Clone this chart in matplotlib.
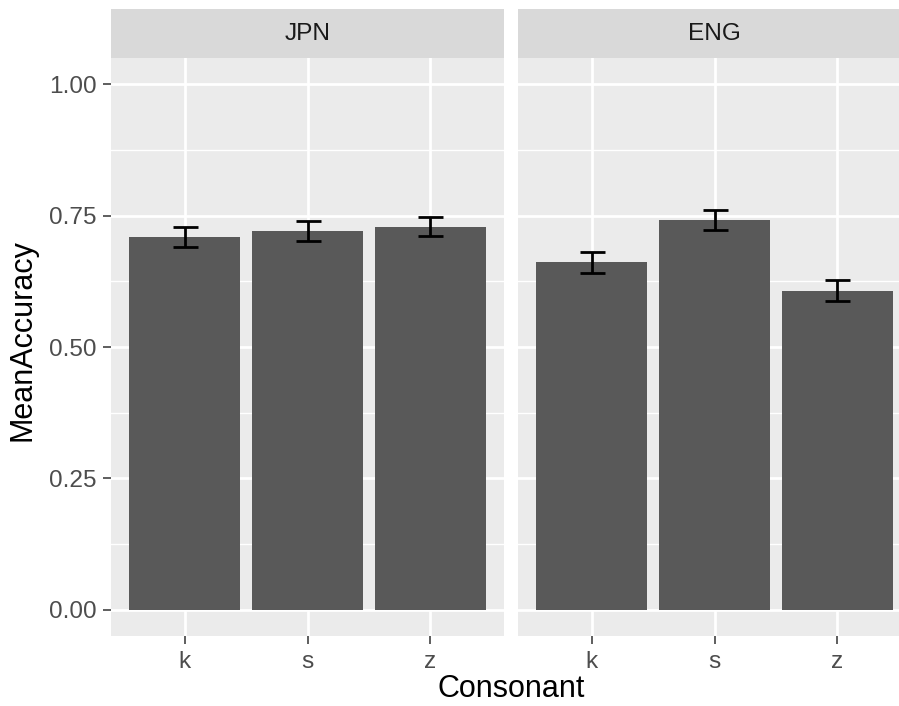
import numpy as np
import matplotlib.pyplot as plt
from matplotlib.ticker import FixedLocator

plt.rcParams['font.family'] = ['Liberation Sans', 'DejaVu Sans']

# Datos
consonants = ['k', 's', 'z']
panels = ['JPN', 'ENG']
mean_acc = {
    'JPN': [0.7095, 0.721, 0.7285],
    'ENG': [0.662, 0.742, 0.607],
}
acc_low = {
    'JPN': [0.691, 0.701, 0.711],
    'ENG': [0.641, 0.723, 0.587],
}
acc_high = {
    'JPN': [0.729, 0.739, 0.748],
    'ENG': [0.681, 0.761, 0.628],
}
y_ticks = [0.0, 0.25, 0.5, 0.75, 1.0]
y_labels = ['0.00', '0.25', '0.50', '0.75', '1.00']

W, H = 899, 706
fig = plt.figure(figsize=(W / 100, H / 100), dpi=100)

# posiciones de los paneles en pixeles (izq, der)
panel_x = {'JPN': (111, 504), 'ENG': (518, 911)}
top_px, bot_px, strip_top = 58, 636, 9

for name in panels:
    x0, x1 = panel_x[name]
    ax = fig.add_axes([x0 / W, 1 - bot_px / H, (x1 - x0) / W, (bot_px - top_px) / H])
    ax.set_facecolor('#EBEBEB')
    ax.set_axisbelow(True)
    x = np.arange(len(consonants))
    vals = np.array(mean_acc[name])
    err = [vals - np.array(acc_low[name]), np.array(acc_high[name]) - vals]
    ax.bar(x, vals, width=0.9, color='#595959', zorder=2)
    ax.errorbar(x, vals, yerr=err, fmt='none', ecolor='black', elinewidth=2,
                capsize=9, capthick=2, zorder=3)
    ax.set_xlim(-0.6, 2.6)
    ax.set_ylim(-0.05, 1.05)
    ax.set_xticks(x)
    ax.set_xticklabels(consonants)
    ax.set_yticks(y_ticks)
    ax.yaxis.set_minor_locator(FixedLocator([0.125, 0.375, 0.625, 0.875]))
    ax.grid(which='major', color='white', linewidth=2)
    ax.grid(which='minor', axis='y', color='white', linewidth=1)
    for s in ax.spines.values():
        s.set_visible(False)
    ax.tick_params(which='major', length=5.5, width=1.1, color='#333333',
                   labelsize=17.6, labelcolor='#4D4D4D', pad=5)
    ax.tick_params(which='minor', length=0)
    if name == 'JPN':
        ax.set_yticklabels(y_labels)
    else:
        ax.tick_params(axis='y', left=False, labelleft=False)

    # franja del titulo
    sax = fig.add_axes([x0 / W, 1 - top_px / H, (x1 - x0) / W, (top_px - strip_top) / H])
    sax.set_facecolor('#D9D9D9')
    sax.set_xticks([])
    sax.set_yticks([])
    for s in sax.spines.values():
        s.set_visible(False)
    sax.text(0.5, 0.5, name, ha='center', va='center', fontsize=17.6,
             color='#1A1A1A', transform=sax.transAxes)

fig.text(511 / W, 1 - 689 / H, 'Consonant', ha='center', va='center', fontsize=22)
fig.text(23 / W, 1 - 340 / H, 'MeanAccuracy', ha='center', va='center',
         rotation=90, fontsize=22)

fig.savefig('out.png', dpi=100)
